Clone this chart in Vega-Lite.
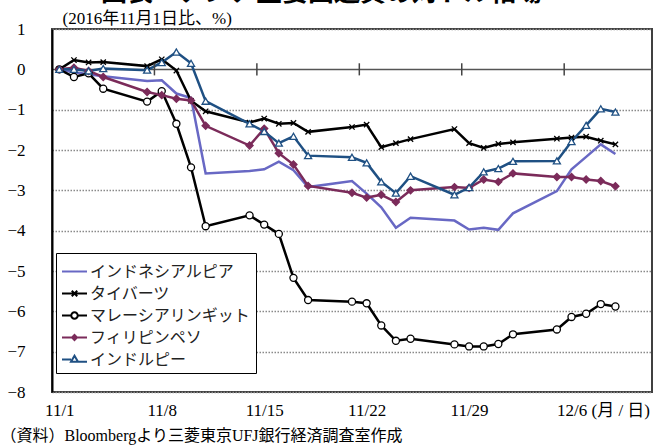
{
  "$schema": "https://vega.github.io/schema/vega-lite/v6.json",
  "autosize": "none",
  "width": 600,
  "height": 363,
  "padding": {"left": 52, "top": 29, "right": 5, "bottom": 55},
  "background": "white",
  "config": {
    "view": {"stroke": "#404040", "strokeWidth": 2},
    "axis": {"labelColor": "black", "titleColor": "black"}
  },
  "resolve": {"axis": {"y": "independent"}},
  "data": {
    "values": [
      {"date": "2016-11-01", "インドネシアルピア": 0, "タイバーツ": 0, "マレーシアリンギット": 0, "フィリピンペソ": 0, "インドルピー": 0},
      {"date": "2016-11-02", "インドネシアルピア": -0.07, "タイバーツ": 0.23, "マレーシアリンギット": -0.19, "フィリピンペソ": 0.04, "インドルピー": 0.0},
      {"date": "2016-11-03", "インドネシアルピア": -0.12, "タイバーツ": 0.17, "マレーシアリンギット": -0.10, "フィリピンペソ": -0.04, "インドルピー": -0.04},
      {"date": "2016-11-04", "インドネシアルピア": -0.17, "タイバーツ": 0.18, "マレーシアリンギット": -0.48, "フィリピンペソ": -0.19, "インドルピー": 0.02},
      {"date": "2016-11-07", "インドネシアルピア": -0.29, "タイバーツ": 0.08, "マレーシアリンギット": -0.80, "フィリピンペソ": -0.56, "インドルピー": -0.02},
      {"date": "2016-11-08", "インドネシアルピア": -0.27, "タイバーツ": 0.25, "マレーシアリンギット": -0.54, "フィリピンペソ": -0.64, "インドルピー": 0.17},
      {"date": "2016-11-09", "インドネシアルピア": -0.60, "タイバーツ": -0.03, "マレーシアリンギット": -1.35, "フィリピンペソ": -0.73, "インドルピー": 0.43},
      {"date": "2016-11-10", "インドネシアルピア": -0.71, "タイバーツ": -0.78, "マレーシアリンギット": -2.43, "フィリピンペソ": -0.77, "インドルピー": 0.15},
      {"date": "2016-11-11", "インドネシアルピア": -2.58, "タイバーツ": -1.04, "マレーシアリンギット": -3.89, "フィリピンペソ": -1.40, "インドルピー": -0.79},
      {"date": "2016-11-14", "インドネシアルピア": -2.52, "タイバーツ": -1.32, "マレーシアリンギット": -3.62, "フィリピンペソ": -1.89, "インドルピー": -1.35},
      {"date": "2016-11-15", "インドネシアルピア": -2.48, "タイバーツ": -1.22, "マレーシアリンギット": -3.85, "フィリピンペソ": -1.47, "インドルピー": -1.54},
      {"date": "2016-11-16", "インドネシアルピア": -2.29, "タイバーツ": -1.35, "マレーシアリンギット": -4.08, "フィリピンペソ": -2.08, "インドルピー": -1.83},
      {"date": "2016-11-17", "インドネシアルピア": -2.50, "タイバーツ": -1.33, "マレーシアリンギット": -5.17, "フィリピンペソ": -2.36, "インドルピー": -1.66},
      {"date": "2016-11-18", "インドネシアルピア": -2.92, "タイバーツ": -1.55, "マレーシアリンギット": -5.72, "フィリピンペソ": -2.89, "インドルピー": -2.14},
      {"date": "2016-11-21", "インドネシアルピア": -2.77, "タイバーツ": -1.43, "マレーシアリンギット": -5.76, "フィリピンペソ": -3.06, "インドルピー": -2.18},
      {"date": "2016-11-22", "インドネシアルピア": -3.08, "タイバーツ": -1.37, "マレーシアリンギット": -5.80, "フィリピンペソ": -3.18, "インドルピー": -2.32},
      {"date": "2016-11-23", "インドネシアルピア": -3.42, "タイバーツ": -1.93, "マレーシアリンギット": -6.35, "フィリピンペソ": -3.11, "インドルピー": -2.79},
      {"date": "2016-11-24", "インドネシアルピア": -3.93, "タイバーツ": -1.83, "マレーシアリンギット": -6.73, "フィリピンペソ": -3.29, "インドルピー": -3.07},
      {"date": "2016-11-25", "インドネシアルピア": -3.68, "タイバーツ": -1.73, "マレーシアリンギット": -6.68, "フィリピンペソ": -3.00, "インドルピー": -2.65},
      {"date": "2016-11-28", "インドネシアルピア": -3.75, "タイバーツ": -1.48, "マレーシアリンギット": -6.82, "フィリピンペソ": -2.92, "インドルピー": -3.11},
      {"date": "2016-11-29", "インドネシアルピア": -3.97, "タイバーツ": -1.83, "マレーシアリンギット": -6.87, "フィリピンペソ": -2.94, "インドルピー": -2.93},
      {"date": "2016-11-30", "インドネシアルピア": -3.93, "タイバーツ": -1.95, "マレーシアリンギット": -6.87, "フィリピンペソ": -2.73, "インドルピー": -2.54},
      {"date": "2016-12-01", "インドネシアルピア": -3.98, "タイバーツ": -1.85, "マレーシアリンギット": -6.81, "フィリピンペソ": -2.79, "インドルピー": -2.46},
      {"date": "2016-12-02", "インドネシアルピア": -3.57, "タイバーツ": -1.81, "マレーシアリンギット": -6.57, "フィリピンペソ": -2.58, "インドルピー": -2.28},
      {"date": "2016-12-05", "インドネシアルピア": -3.02, "タイバーツ": -1.72, "マレーシアリンギット": -6.45, "フィリピンペソ": -2.67, "インドルピー": -2.27},
      {"date": "2016-12-06", "インドネシアルピア": -2.48, "タイバーツ": -1.69, "マレーシアリンギット": -6.14, "フィリピンペソ": -2.67, "インドルピー": -1.79},
      {"date": "2016-12-07", "インドネシアルピア": -2.17, "タイバーツ": -1.67, "マレーシアリンギット": -6.06, "フィリピンペソ": -2.73, "インドルピー": -1.39},
      {"date": "2016-12-08", "インドネシアルピア": -1.86, "タイバーツ": -1.77, "マレーシアリンギット": -5.82, "フィリピンペソ": -2.77, "インドルピー": -0.98},
      {"date": "2016-12-09", "インドネシアルピア": -2.10, "タイバーツ": -1.86, "マレーシアリンギット": -5.88, "フィリピンペソ": -2.90, "インドルピー": -1.06}
    ]
  },
  "layer": [
    {
      "transform": [{"fold": ["インドネシアルピア", "タイバーツ", "マレーシアリンギット", "フィリピンペソ", "インドルピー"], "as": ["series", "value"]}],
      "mark": {"type": "line", "strokeWidth": 2.5},
      "encoding": {
        "x": {
          "field": "date", "type": "temporal",
          "scale": {"type": "utc", "domain": [{"year": 2016, "month": 10, "date": 31, "hours": 12, "utc": true}, {"year": 2016, "month": 12, "date": 11, "hours": 12, "utc": true}]},
          "axis": {
            "values": [
              {"year": 2016, "month": 11, "date": 1, "utc": true},
              {"year": 2016, "month": 11, "date": 8, "utc": true},
              {"year": 2016, "month": 11, "date": 15, "utc": true},
              {"year": 2016, "month": 11, "date": 22, "utc": true},
              {"year": 2016, "month": 11, "date": 29, "utc": true},
              {"year": 2016, "month": 12, "date": 6, "utc": true}
            ],
            "labelExpr": "utcFormat(datum.value, '%-m/%-d') + (utcmonth(datum.value) === 11 ? ' (月 / 日)' : '')",
            "labelAlign": {"condition": {"test": "utcmonth(datum.value) === 11", "value": "left"}, "value": "center"},
            "labelOffset": {"condition": {"test": "utcmonth(datum.value) === 11", "value": -15}, "value": 0},
            "labelFont": "'Liberation Serif', 'Noto Sans CJK JP'",
            "labelFontSize": 17,
            "labelPadding": 10,
            "labelFlush": false,
            "labelOverlap": false,
            "labelBound": false,
            "ticks": false,
            "domain": false,
            "grid": false,
            "title": "（資料）Bloombergより三菱東京UFJ銀行経済調査室作成",
            "titleFont": "'Liberation Serif', 'Noto Sans CJK JP'",
            "titleFontSize": 16,
            "titleFontWeight": "normal",
            "titleAlign": "left",
            "titleAnchor": "start",
            "titleBaseline": "alphabetic",
            "titleX": -52,
            "titleY": 48
          }
        },
        "y": {
          "field": "value", "type": "quantitative",
          "scale": {"domain": [-8, 1], "nice": false},
          "axis": {
            "orient": "left",
            "values": [1, 0, -1, -2, -3, -4, -5, -6, -7, -8],
            "labelFont": "'Liberation Serif'",
            "labelFontSize": 17,
            "labelPadding": 27,
            "ticks": false,
            "domainColor": "black",
            "domainWidth": 2,
            "grid": true,
            "gridColor": {"condition": {"test": "datum.value === 0", "value": "#555"}, "value": "#8a8a8a"},
            "gridDash": {"condition": {"test": "datum.value === 0", "value": []}, "value": [1.5, 1.5]},
            "gridWidth": {"condition": {"test": "datum.value === 0", "value": 1.6}, "value": 1.3},
            "title": "(2016年11月1日比、%)",
            "titleFont": "'Liberation Serif', 'Noto Sans CJK JP'",
            "titleFontSize": 17,
            "titleFontWeight": "normal",
            "titleAngle": 0,
            "titleAlign": "left",
            "titleBaseline": "middle",
            "titleX": 10,
            "titleY": -11
          }
        },
        "color": {
          "field": "series", "type": "nominal",
          "scale": {
            "domain": ["インドネシアルピア", "タイバーツ", "マレーシアリンギット", "フィリピンペソ", "インドルピー"],
            "range": ["#6868C4", "#000000", "#000000", "#7B2B5A", "#1F5083"]
          },
          "legend": {
            "orient": "none",
            "legendX": 4,
            "legendY": 224,
            "title": null,
            "fillColor": "white",
            "strokeColor": "black",
            "padding": 5,
            "labelFont": "Noto Sans CJK JP",
            "labelFontSize": 16,
            "labelColor": "#222",
            "labelOffset": 2,
            "labelLimit": 300,
            "symbolSize": 625,
            "symbolStrokeWidth": 2,
            "rowPadding": 0,
            "encode": {
              "symbols": {
                "update": {
                  "shape": {"signal": "datum.value === 'タイバーツ' ? 'M-1,0H1M-0.22,-0.22L0.22,0.22M-0.22,0.22L0.22,-0.22' : datum.value === 'マレーシアリンギット' ? 'M-1,0H-0.26M0.26,0H1M-0.26,0A0.26,0.26 0 1,0 0.26,0A0.26,0.26 0 1,0 -0.26,0Z' : datum.value === 'フィリピンペソ' ? 'M-1,0H1M0,-0.2L0.2,0L0,0.2L-0.2,0Z' : datum.value === 'インドルピー' ? 'M-1,0H-0.28M0.28,0.18H1M-0.28,0.18L0,-0.3L0.28,0.18Z' : 'M-1,0H1'"},
                  "fill": {"signal": "datum.value === 'フィリピンペソ' ? '#7B2B5A' : (datum.value === 'マレーシアリンギット' || datum.value === 'インドルピー') ? 'white' : 'transparent'"},
                  "strokeWidth": {"value": 2}
                }
              }
            }
          }
        }
      }
    },
    {
      "data": {"values": [
        {"t": "2016-11-07T12:00:00Z"},
        {"t": "2016-11-14T12:00:00Z"},
        {"t": "2016-11-21T12:00:00Z"},
        {"t": "2016-11-28T12:00:00Z"},
        {"t": "2016-12-05T12:00:00Z"}
      ]},
      "mark": {"type": "rule", "color": "#444", "strokeWidth": 1.5},
      "encoding": {
        "x": {"field": "t", "type": "temporal"},
        "y": {
          "datum": 0.15, "type": "quantitative",
          "axis": {
            "orient": "right",
            "labels": false,
            "ticks": false,
            "domain": false,
            "grid": false,
            "title": "図表　アジア主要国通貨の対ドル相場",
            "titleFont": "Noto Sans CJK JP",
            "titleFontSize": 26,
            "titleFontWeight": "bold",
            "titleColor": "black",
            "titleAngle": 0,
            "titleAlign": "center",
            "titleBaseline": "alphabetic",
            "titleX": -331,
            "titleY": -29
          }
        },
        "y2": {"datum": -0.15}
      }
    },
    {
      "transform": [
        {"fold": ["インドネシアルピア", "タイバーツ", "マレーシアリンギット", "フィリピンペソ", "インドルピー"], "as": ["series", "value"]},
        {"filter": "datum.series !== 'インドネシアルピア'"}
      ],
      "mark": {"type": "point", "size": 50, "strokeWidth": 1.3, "opacity": 1},
      "encoding": {
        "x": {"field": "date", "type": "temporal"},
        "y": {"field": "value", "type": "quantitative", "axis": null},
        "stroke": {
          "field": "series", "type": "nominal",
          "scale": {"domain": ["タイバーツ", "マレーシアリンギット", "フィリピンペソ", "インドルピー"], "range": ["#000000", "#000000", "#7B2B5A", "#1F5083"]},
          "legend": null
        },
        "fill": {
          "field": "series", "type": "nominal",
          "scale": {"domain": ["タイバーツ", "マレーシアリンギット", "フィリピンペソ", "インドルピー"], "range": ["transparent", "white", "#7B2B5A", "white"]},
          "legend": null
        },
        "shape": {
          "field": "series", "type": "nominal",
          "scale": {"domain": ["タイバーツ", "マレーシアリンギット", "フィリピンペソ", "インドルピー"], "range": ["M-0.75,-0.75L0.75,0.75M-0.75,0.75L0.75,-0.75", "circle", "diamond", "triangle-up"]},
          "legend": null
        }
      }
    }
  ]
}
